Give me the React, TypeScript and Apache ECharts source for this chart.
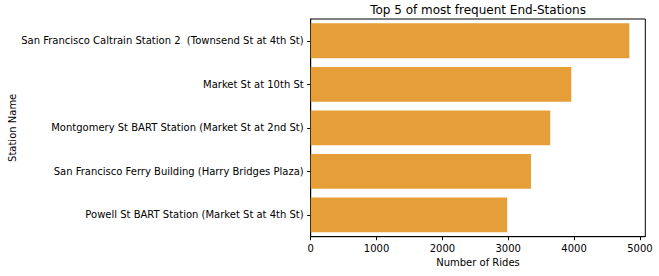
import React, { useEffect, useRef } from "react";
import * as echarts from "echarts";

const stations = [
  "San Francisco Caltrain Station 2  (Townsend St at 4th St)",
  "Market St at 10th St",
  "Montgomery St BART Station (Market St at 2nd St)",
  "San Francisco Ferry Building (Harry Bridges Plaza)",
  "Powell St BART Station (Market St at 4th St)",
];
const rides = [4840, 3958, 3638, 3346, 2984];
const xTicks = [0, 1000, 2000, 3000, 4000, 5000];

export default function App() {
  const ref = useRef<HTMLDivElement>(null);
  useEffect(() => {
    if (!ref.current) return;
    const chart = echarts.init(ref.current, undefined, { renderer: "svg" });
    const font = "DejaVu Sans";
    const maxVal = Math.max(...rides) * 1.05;
    chart.setOption({
      animation: false,
      backgroundColor: "#fff",
      title: {
        text: "Top 5 of most frequent End-Stations",
        left: 478,
        top: 4,
        padding: 0,
        textAlign: "center",
        textStyle: { fontFamily: font, fontSize: 12, fontWeight: "normal", color: "#000" },
      },
      grid: {
        left: 310.7,
        right: 13.7,
        top: 19,
        bottom: 39.3,
        containLabel: false,
        outerBoundsMode: "none",
        show: true,
        borderColor: "#000",
        borderWidth: 1,
        backgroundColor: "transparent",
      },
      xAxis: {
        type: "value",
        min: 0,
        max: maxVal,
        name: "Number of Rides",
        nameLocation: "middle",
        nameGap: 21,
        nameMoveOverlap: false,
        nameTextStyle: { fontFamily: font, fontSize: 10, color: "#000", verticalAlign: "top" },
        axisLine: { show: true, lineStyle: { color: "#000", width: 1 } },
        axisTick: { show: true, length: 3.5, lineStyle: { color: "#000" }, customValues: xTicks },
        axisLabel: {
          customValues: xTicks,
          formatter: (v: number) => String(v),
          margin: 7,
          fontFamily: font,
          fontSize: 10,
          color: "#000",
        },
        splitLine: { show: false },
      },
      yAxis: {
        type: "category",
        data: stations,
        inverse: true,
        name: "Station Name",
        nameLocation: "middle",
        nameRotate: 90,
        nameGap: 293.5,
        nameMoveOverlap: false,
        nameTextStyle: { fontFamily: font, fontSize: 10, color: "#000" },
        axisLine: { show: true, lineStyle: { color: "#000", width: 1 } },
        axisTick: { show: true, alignWithLabel: true, length: 3.5, lineStyle: { color: "#000" } },
        axisLabel: { margin: 7, fontFamily: font, fontSize: 10, color: "#000" },
        splitLine: { show: false },
      },
      series: [
        {
          type: "bar",
          data: rides,
          barCategoryGap: "20%",
          itemStyle: { color: "#e69e39" },
        },
      ],
    });
    return () => chart.dispose();
  }, []);
  return (
    <div
      ref={ref}
      style={{ position: "fixed", left: 0, top: 0, width: 659, height: 276 }}
    />
  );
}
